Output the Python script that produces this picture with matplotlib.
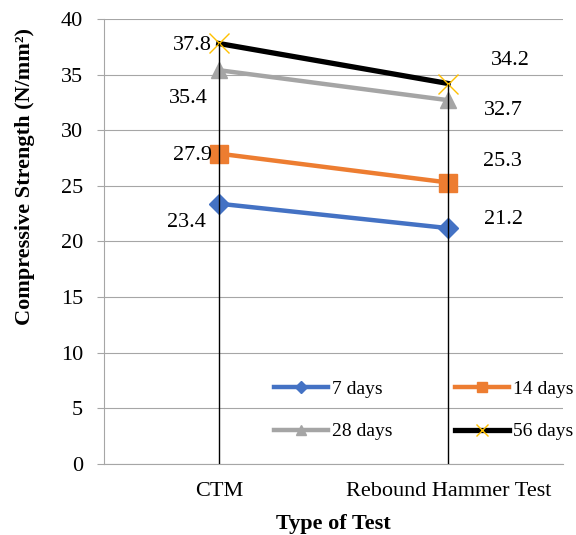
import matplotlib.pyplot as plt

plt.rcParams['font.family'] = ['Liberation Serif', 'DejaVu Serif']

tests = ['CTM', 'Rebound Hammer Test']
days_7 = [23.4, 21.2]
days_14 = [27.9, 25.3]
days_28 = [35.4, 32.7]
days_56 = [37.8, 34.2]

fig = plt.figure(figsize=(5.76, 5.35), dpi=100)
ax = fig.add_axes([0.1806, 0.1327, 0.7968, 0.8318])

x = list(range(len(tests)))
lw = 3.2
l7, = ax.plot(x, days_7, color='#4472C4', lw=lw, marker='D', ms=10, label='7 days', zorder=3)
l14, = ax.plot(x, days_14, color='#ED7D31', lw=lw, marker='s', ms=13, label='14 days', zorder=3)
l28, = ax.plot(x, days_28, color='#A5A5A5', lw=lw, marker='^', ms=12, label='28 days', zorder=3)
l56, = ax.plot(x, days_56, color='black', lw=lw + 0.6, marker='x', ms=15, mec='#FFC000',
               mew=1.0, label='56 days', zorder=4)

# drop lines from the highest point down to the axis
tops = [max(v) for v in zip(days_7, days_14, days_28, days_56)]
ax.vlines(x, 0, tops, color='black', lw=1.0, zorder=5)

# data labels (offsets in points)
label_offsets = [
    (days_7, [(-23, -13.5), (40, 6.5)]),
    (days_14, [(-19, -1.5), (39, 15.5)]),
    (days_28, [(-22, -20.5), (40, -7.5)]),
    (days_56, [(-19, -1.5), (45, 16.5)]),
]
for vals, offs in label_offsets:
    for xi, v, off in zip(x, vals, offs):
        ax.annotate(f'{v:.1f}', (xi, v), xytext=off, textcoords='offset points',
                    ha='center', va='center', fontsize=16, zorder=6)

ax.set_xlim(-0.5, 1.5)
ax.set_ylim(0, 40)
ax.set_yticks(range(0, 41, 5))
ax.set_xticks(x)
ax.set_xticklabels(tests)
ax.tick_params(axis='y', labelsize=16, color='#A6A6A6', length=5, width=0.8, pad=10)
ax.tick_params(axis='x', labelsize=16, length=0, pad=13)

ax.grid(axis='y', color='#A6A6A6', lw=0.8)
ax.set_axisbelow(True)
for side in ['top', 'right']:
    ax.spines[side].set_visible(False)
for side in ['left', 'bottom']:
    ax.spines[side].set_color('#A6A6A6')
    ax.spines[side].set_linewidth(0.8)

ax.set_ylabel('Compressive Strength (N/mm²)', fontsize=16, fontweight='bold')
ax.yaxis.set_label_coords(-0.151, 0.645)
ax.set_xlabel('Type of Test', fontsize=16, fontweight='bold', labelpad=9)

# row-wise order: 7 / 14 on top, 28 / 56 below
ax.legend([l7, l28, l14, l56], ['7 days', '28 days', '14 days', '56 days'],
          ncol=2, loc='center', bbox_to_anchor=(0.697, 0.121), frameon=False,
          fontsize=14, handlelength=2.8, handletextpad=0.2, columnspacing=3.2,
          labelspacing=1.3, markerscale=0.6)

fig.savefig('out.png', dpi=100)
